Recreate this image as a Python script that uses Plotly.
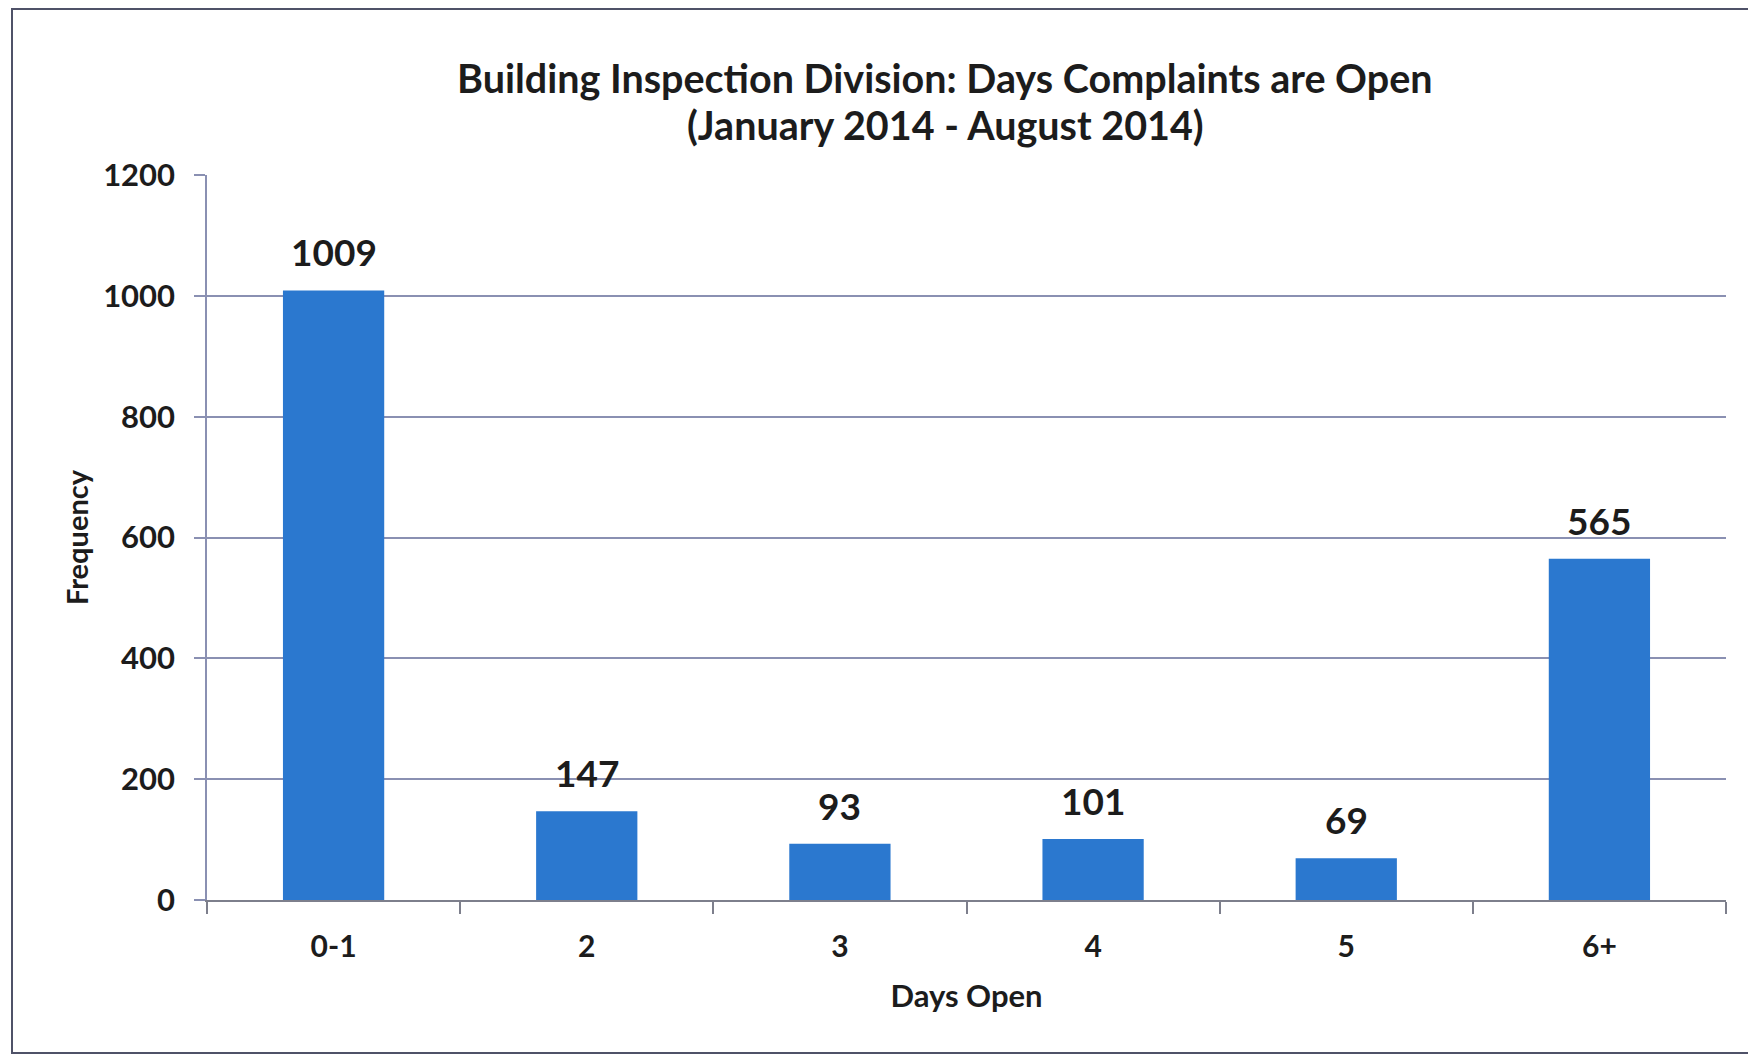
import plotly.graph_objects as go

# ---- data ----
categories = ["0-1", "2", "3", "4", "5", "6+"]
frequency = [1009, 147, 93, 101, 69, 565]
y_ticks = [0, 200, 400, 600, 800, 1000, 1200]

title_line1 = "Building Inspection Division: Days Complaints are Open"
title_line2 = "(January 2014 - August 2014)"
x_title = "Days Open"
y_title = "Frequency"

# ---- style ----
FONT = "Lato"
TXT = "#1c1c1c"
BAR = "#2b78cf"
GRID = "#8a90b2"
AXIS = "#7d7f8c"

OFF = 8  # page body margin
W, H = 1756 - OFF, 1057 - OFF
L, T = 207 - OFF, 175 - OFF
R = W - (1726 - OFF)
B = H - (900 - OFF)
pw, ph = W - L - R, H - T - B


def px_x(p):
    return (p - OFF - L) / pw


def px_y(p):
    return (H - B - (p - OFF)) / ph


fig = go.Figure()
fig.add_trace(go.Bar(
    x=categories, y=frequency,
    marker=dict(color=BAR, line=dict(width=0)),
    hoverinfo="x+y",
))

# data labels
for i, v in enumerate(frequency):
    fig.add_annotation(
        x=i, y=v, xref="x", yref="y", text=str(v),
        showarrow=False, yanchor="bottom", yshift=14,
        font=dict(family=FONT, size=37, color=TXT, weight="bold"),
    )

# title lines
for txt, py in ((title_line1, 77), (title_line2, 124)):
    fig.add_annotation(
        x=px_x(945), y=px_y(py), xref="paper", yref="paper", text=txt,
        showarrow=False, xanchor="center", yanchor="middle",
        font=dict(family=FONT, size=39.5, color=TXT, weight="bold"),
    )

# chart frame
fig.add_shape(type="rect", xref="paper", yref="paper",
              x0=px_x(12), x1=px_x(1749), y0=px_y(1053), y1=px_y(9),
              line=dict(color="#4f5268", width=2), fillcolor="rgba(0,0,0,0)",
              layer="below")

fig.update_layout(
    width=W, height=H,
    margin=dict(l=L, r=R, t=T, b=B, autoexpand=False),
    paper_bgcolor="white", plot_bgcolor="white",
    showlegend=False,
    bargap=0.6,
    font=dict(family=FONT, color=TXT),
    xaxis=dict(
        type="category",
        showline=True, linecolor=AXIS, linewidth=1.5,
        ticks="outside", ticklen=12, tickcolor=AXIS, tickwidth=1.5,
        tickson="boundaries",
        showgrid=False, zeroline=False,
        tickfont=dict(family=FONT, size=30, color=TXT, weight="bold"),
        ticklabelstandoff=19,
        title=dict(text=x_title, standoff=24,
                   font=dict(family=FONT, size=31, color=TXT, weight="bold")),
    ),
    yaxis=dict(
        range=[0, 1200], tickvals=y_ticks,
        showline=True, linecolor=GRID, linewidth=1.5,
        ticks="outside", ticklen=11, tickcolor=GRID, tickwidth=1.5,
        showgrid=True, gridcolor=GRID, gridwidth=1.5,
        zeroline=False,
        tickfont=dict(family=FONT, size=31, color=TXT, weight="bold"),
        ticklabelstandoff=13,
        title=dict(text=y_title, standoff=6,
                   font=dict(family=FONT, size=29, color=TXT, weight="bold")),
    ),
)

fig.write_html("out.html")
